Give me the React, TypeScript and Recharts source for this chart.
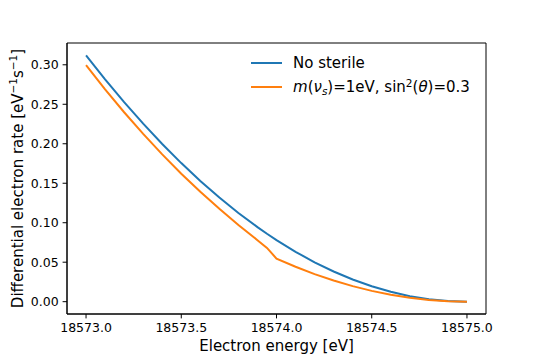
import React from "react";
import { LineChart, Line, XAxis, YAxis, Legend, Label, ReferenceArea } from "recharts";

// electron energy grid [eV]
const energies = [
  18573.0, 18573.1, 18573.2, 18573.3, 18573.4, 18573.5, 18573.6, 18573.7, 18573.8, 18573.9, 18573.95,
  18574.0, 18574.1, 18574.2, 18574.3, 18574.4, 18574.5, 18574.6, 18574.7, 18574.8, 18574.9, 18575.0,
];

// differential rate without sterile neutrino
const noSterile = [
  0.312, 0.2816, 0.2527, 0.2254, 0.1997, 0.1755, 0.1529, 0.1318, 0.1123, 0.0944, 0.086,
  0.078, 0.0632, 0.0499, 0.0382, 0.0281, 0.0195, 0.0125, 0.007, 0.0031, 0.0008, 0,
];

// with m(nu_s)=1eV, sin^2(theta)=0.3
const withSterile = [
  0.2995, 0.2689, 0.2399, 0.2125, 0.1866, 0.1621, 0.1391, 0.1176, 0.0972, 0.0779, 0.0681,
  0.0546, 0.0442, 0.0349, 0.0268, 0.0197, 0.0137, 0.0087, 0.0049, 0.0022, 0.0005, 0,
];

const xTicks = [18573.0, 18573.5, 18574.0, 18574.5, 18575.0];
const yTicks = [0, 0.05, 0.1, 0.15, 0.2, 0.25, 0.3];

const X_DOMAIN: [number, number] = [18572.9, 18575.1];
const Y_DOMAIN: [number, number] = [-0.0156, 0.3276];

const BLUE = "#1f77b4";
const ORANGE = "#ff7f0e";

const data = energies.map((e, i) => ({
  energy: e,
  noSterile: noSterile[i],
  withSterile: withSterile[i],
}));

const tickStyle = { fontSize: 12.5, fill: "#000", fontFamily: "DejaVu Sans" };

function XLabel(props: any) {
  const vb = props.viewBox;
  return (
    <text
      x={vb.x + vb.width / 2}
      y={351}
      textAnchor="middle"
      fontSize={15}
      fontFamily="DejaVu Sans"
      fill="#000"
    >
      Electron energy [eV]
    </text>
  );
}

function YLabel(props: any) {
  const vb = props.viewBox;
  const cx = 23;
  const cy = vb.y + vb.height / 2;
  return (
    <text
      x={cx}
      y={cy}
      transform={`rotate(-90, ${cx}, ${cy})`}
      textAnchor="middle"
      fontSize={15}
      fontFamily="DejaVu Sans"
      fill="#000"
    >
      Differential electron rate [eV
      <tspan dy={-6} fontSize={10.5}>−1</tspan>
      <tspan dy={6}>s</tspan>
      <tspan dy={-6} fontSize={10.5}>−1</tspan>
      <tspan dy={6}>]</tspan>
    </text>
  );
}

const sub = { fontSize: "70%", verticalAlign: "-0.3em", lineHeight: 0 } as const;
const sup = { fontSize: "70%", verticalAlign: "0.45em", lineHeight: 0 } as const;

function LegendBox() {
  const rows = [
    { color: BLUE, text: <span>No sterile</span> },
    {
      color: ORANGE,
      text: (
        <span>
          <i>m</i>(<i>ν</i>
          <span style={sub}>
            <i>s</i>
          </span>
          )=1eV, sin<span style={sup}>2</span>(<i>θ</i>)=0.3
        </span>
      ),
    },
  ];
  return (
    <div style={{ fontFamily: "DejaVu Sans", fontSize: 15, color: "#000" }}>
      {rows.map((r, i) => (
        <div key={i} style={{ display: "flex", alignItems: "center", height: 24 }}>
          <svg width={31} height={4} style={{ marginRight: 11 }}>
            <line x1={0} y1={2} x2={31} y2={2} stroke={r.color} strokeWidth={2} />
          </svg>
          {r.text}
        </div>
      ))}
    </div>
  );
}

export default function App() {
  return (
    <div
      style={{
        position: "absolute",
        left: 0,
        top: 0,
        width: 540,
        height: 360,
        background: "#fff",
        fontFamily: "DejaVu Sans",
      }}
    >
      <LineChart
        width={540}
        height={360}
        data={data}
        margin={{ top: 43, right: 54, bottom: 0, left: 10 }}
      >
        <XAxis
          dataKey="energy"
          type="number"
          domain={X_DOMAIN}
          allowDataOverflow
          ticks={xTicks}
          tickFormatter={(v: number) => v.toFixed(1)}
          tick={tickStyle}
          tickSize={4.4}
          tickMargin={5}
          height={46}
          axisLine={{ stroke: "#000" }}
          tickLine={{ stroke: "#000" }}
        >
          <Label content={XLabel} />
        </XAxis>
        <YAxis
          type="number"
          domain={Y_DOMAIN}
          allowDataOverflow
          ticks={yTicks}
          tickFormatter={(v: number) => v.toFixed(2)}
          tick={tickStyle}
          tickSize={4.4}
          tickMargin={4}
          width={57}
          axisLine={{ stroke: "#000" }}
          tickLine={{ stroke: "#000" }}
        >
          <Label content={YLabel} />
        </YAxis>
        {/* axes frame */}
        <ReferenceArea
          x1={X_DOMAIN[0]}
          x2={X_DOMAIN[1]}
          y1={Y_DOMAIN[0]}
          y2={Y_DOMAIN[1]}
          fill="none"
          stroke="#000"
          strokeWidth={1}
          fillOpacity={0}
          strokeOpacity={1}
          ifOverflow="visible"
        />
        <Legend
          layout="horizontal"
          verticalAlign="middle"
          align="center"
          content={() => <LegendBox />}
          wrapperStyle={{ position: "absolute", left: 251, top: 51, width: "auto", height: "auto" }}
        />
        <Line
          type="linear"
          dataKey="noSterile"
          name="No sterile"
          stroke={BLUE}
          strokeWidth={2}
          dot={false}
          activeDot={false}
          isAnimationActive={false}
        />
        <Line
          type="linear"
          dataKey="withSterile"
          name="m(νs)=1eV, sin2(θ)=0.3"
          stroke={ORANGE}
          strokeWidth={2}
          dot={false}
          activeDot={false}
          isAnimationActive={false}
        />
      </LineChart>
    </div>
  );
}
